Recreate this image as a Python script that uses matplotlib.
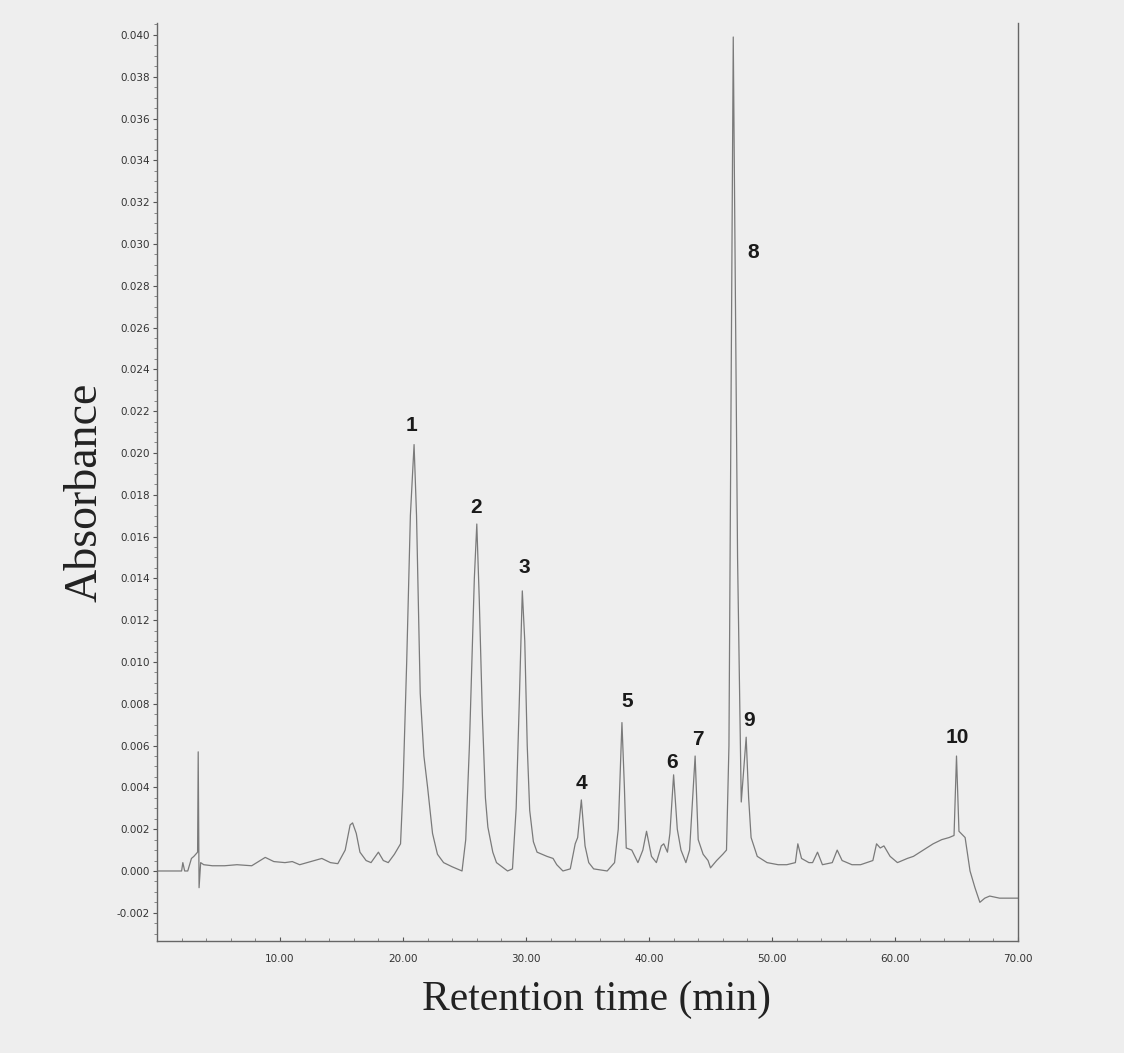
import numpy as np
import matplotlib
matplotlib.use('Agg')
import matplotlib.pyplot as plt
from matplotlib.ticker import MultipleLocator, FormatStrFormatter

# chromatogram trace (retention time in min, absorbance)
time_min = [0.0, 2.0, 2.1, 2.25, 2.5, 2.8, 3.0, 3.3, 3.35, 3.42, 3.55, 3.8,
            4.5, 5.5, 6.5, 7.7, 8.8, 9.5, 10.4, 11.0, 11.6, 12.5, 13.4, 14.1,
            14.7, 15.3, 15.7, 15.9, 16.2, 16.5, 17.0, 17.4, 18.0, 18.4, 18.8,
            19.3, 19.8, 20.0, 20.3, 20.6, 20.9, 21.1, 21.4, 21.7, 22.0, 22.4,
            22.8, 23.3, 24.0, 24.8, 25.1, 25.4, 25.8, 26.0, 26.2, 26.45, 26.7,
            26.9, 27.3, 27.6, 28.5, 28.9, 29.2, 29.45, 29.7, 29.9, 30.1, 30.3,
            30.6, 30.9, 31.3, 31.7, 32.2, 32.5, 33.0, 33.6, 34.0, 34.2, 34.5,
            34.8, 35.1, 35.5, 36.6, 37.2, 37.5, 37.8, 38.0, 38.15, 38.6, 39.1,
            39.5, 39.8, 40.2, 40.6, 41.0, 41.2, 41.5, 41.7, 42.0, 42.3, 42.6,
            43.0, 43.3, 43.75, 44.0, 44.4, 44.8, 45.0, 45.5, 46.0, 46.3, 46.5,
            46.85, 47.2, 47.5, 47.9, 48.1, 48.3, 48.8, 49.6, 50.5, 51.2, 51.9,
            52.1, 52.4, 53.0, 53.3, 53.7, 54.1, 54.9, 55.3, 55.7, 56.5, 57.2,
            58.2, 58.5, 58.8, 59.1, 59.6, 60.2, 61.0, 61.5, 62.3, 63.1, 63.8,
            64.4, 64.8, 65.0, 65.2, 65.7, 66.1, 66.5, 66.9, 67.3, 67.7, 68.5,
            70.0]
absorbance = [0.0, 0.0, 0.0004, 0.0, 0.0, 0.0006, 0.0007, 0.0009, 0.0057,
              -0.0008, 0.0004, 0.0003, 0.00025, 0.00025, 0.0003, 0.00025,
              0.00065, 0.00045, 0.0004, 0.00045, 0.0003, 0.00045, 0.0006,
              0.0004, 0.00035, 0.001, 0.0022, 0.0023, 0.0018, 0.0009, 0.0005,
              0.0004, 0.0009, 0.0005, 0.0004, 0.0008, 0.0013, 0.004, 0.01,
              0.017, 0.0204, 0.017, 0.0085, 0.0055, 0.004, 0.0018, 0.0008,
              0.0004, 0.0002, 0.0, 0.0015, 0.006, 0.014, 0.0166, 0.013, 0.0075,
              0.0035, 0.0021, 0.0009, 0.0004, 0.0, 0.0001, 0.003, 0.008,
              0.0134, 0.011, 0.006, 0.0029, 0.0014, 0.0009, 0.0008, 0.0007,
              0.0006, 0.0003, 0.0, 0.0001, 0.0013, 0.0016, 0.0034, 0.0012,
              0.0004, 0.0001, 0.0, 0.0004, 0.002, 0.0071, 0.004, 0.0011, 0.001,
              0.0004, 0.001, 0.0019, 0.0007, 0.0004, 0.0012, 0.0013, 0.0009,
              0.0018, 0.0046, 0.002, 0.001, 0.0004, 0.001, 0.0055, 0.0015,
              0.0008, 0.0005, 0.00015, 0.0005, 0.0008, 0.001, 0.006, 0.0399,
              0.015, 0.0033, 0.0064, 0.0035, 0.0016, 0.0007, 0.0004, 0.0003,
              0.0003, 0.0004, 0.0013, 0.0006, 0.0004, 0.0004, 0.0009, 0.0003,
              0.0004, 0.001, 0.0005, 0.0003, 0.0003, 0.0005, 0.0013, 0.0011,
              0.0012, 0.0007, 0.0004, 0.0006, 0.0007, 0.001, 0.0013, 0.0015,
              0.0016, 0.0017, 0.0055, 0.0019, 0.0016, 0.0, -0.0008, -0.0015,
              -0.0013, -0.0012, -0.0013, -0.0013]

# peak numbers and where their labels sit
peak_labels = ['1', '2', '3', '4', '5', '6', '7', '8', '9', '10']
label_x = [20.7, 25.9, 29.9, 34.5, 38.2, 41.9, 44.0, 48.5, 48.1, 65.1]
label_y = [0.0213, 0.0174, 0.0145, 0.0042, 0.0081, 0.0052, 0.0063, 0.0296, 0.0072, 0.0064]

time_ticks = [10, 20, 30, 40, 50, 60, 70]

bg = '#eeeeee'
fig = plt.figure(figsize=(11.24, 10.53), dpi=100, facecolor=bg)
ax = fig.add_axes([157 / 1124, 1 - 941 / 1053, (1018 - 157) / 1124, (941 - 23) / 1053])
ax.set_facecolor(bg)

ax.plot(time_min, absorbance, color='#7a7a7a', lw=0.9)

for lab, x, y in zip(peak_labels, label_x, label_y):
    ax.text(x, y, lab, ha='center', va='center', fontsize=15, fontweight='bold',
            family='Liberation Sans', color='#1a1a1a')

ax.set_xlim(0, 70)
ax.set_ylim(-0.00335, 0.04057)

ax.set_xticks(time_ticks)
ax.xaxis.set_minor_locator(MultipleLocator(2))
ax.yaxis.set_major_locator(MultipleLocator(0.002))
ax.yaxis.set_minor_locator(MultipleLocator(0.0005))
ax.xaxis.set_major_formatter(FormatStrFormatter('%.2f'))
ax.yaxis.set_major_formatter(FormatStrFormatter('%.3f'))

ax.tick_params(axis='both', which='major', labelsize=7.5, colors='#555555',
               labelcolor='#333333', length=3, width=0.8)
ax.tick_params(axis='both', which='minor', colors='#777777', length=2, width=0.6)
ax.tick_params(axis='x', which='both', direction='in', pad=9)
ax.tick_params(axis='y', which='both', direction='out', pad=2)

ax.spines['top'].set_visible(False)
for s in ['left', 'bottom', 'right']:
    ax.spines[s].set_color('#666666')
    ax.spines[s].set_linewidth(1.0)

fig.text(85 / 1124, 1 - 492 / 1053, 'Absorbance', rotation=90, ha='center', va='center',
         fontsize=33, family='Liberation Serif', color='#222222')
fig.text(597 / 1124, 1 - 1000 / 1053, 'Retention time (min)', ha='center', va='center',
         fontsize=30, family='Liberation Serif', color='#222222')

fig.savefig('out.png', dpi=100, facecolor=bg)
